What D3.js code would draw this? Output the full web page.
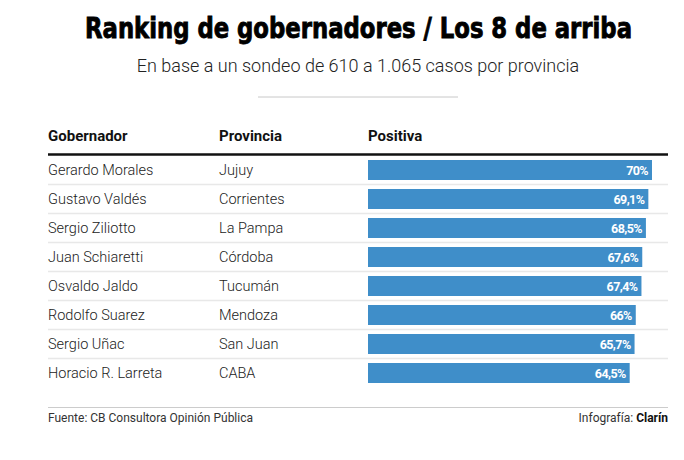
<!DOCTYPE html>
<html>
<head>
<meta charset="utf-8">
<script src="https://cdn.jsdelivr.net/npm/d3@7"></script>
<style>
  body { margin: 0; background: #fff; }
  text { font-family: Roboto, "Noto Sans", sans-serif; }
</style>
</head>
<body>
<div id="chart"></div>
<script>
const gobernadores = ['Gerardo Morales', 'Gustavo Valdés', 'Sergio Ziliotto', 'Juan Schiaretti',
  'Osvaldo Jaldo', 'Rodolfo Suarez', 'Sergio Uñac', 'Horacio R. Larreta'];
const provincias = ['Jujuy', 'Corrientes', 'La Pampa', 'Córdoba', 'Tucumán', 'Mendoza', 'San Juan', 'CABA'];
const positiva = [70, 69.1, 68.5, 67.6, 67.4, 66, 65.7, 64.5];
const columnas = ['Gobernador', 'Provincia', 'Positiva'];

const rows = gobernadores.map((g, i) => ({gob: g, prov: provincias[i], val: positiva[i]}));

const width = 684, height = 460;
const left = 48, right = 668;
const colX = [48, 219, 368];

const svg = d3.select('#chart')
  .append('svg')
  .attr('width', width)
  .attr('height', height);

// titulo
svg.append('text')
  .attr('x', 85)
  .attr('y', 38)
  .attr('textLength', 547)
  .attr('lengthAdjust', 'spacingAndGlyphs')
  .style('font-family', '"DejaVu Sans Condensed", "DejaVu Sans", sans-serif')
  .style('font-weight', 700)
  .style('font-size', '27.5px')
  .style('stroke', '#000')
  .style('stroke-width', 0.8)
  .attr('fill', '#000')
  .text('Ranking de gobernadores / Los 8 de arriba');

svg.append('text')
  .attr('x', 358)
  .attr('y', 72)
  .attr('text-anchor', 'middle')
  .style('font-size', '18px')
  .style('font-weight', 300)
  .attr('fill', '#222')
  .text('En base a un sondeo de 610 a 1.065 casos por provincia');

svg.append('line')
  .attr('x1', 258).attr('x2', 458)
  .attr('y1', 97).attr('y2', 97)
  .attr('stroke', '#c8c8c8');

// encabezado
svg.selectAll('.col')
  .data(columnas)
  .enter()
  .append('text')
  .attr('x', (d, i) => colX[i])
  .attr('y', 141)
  .style('font-size', '15px')
  .style('font-weight', 700)
  .attr('fill', '#111')
  .text(d => d);

svg.append('line')
  .attr('x1', left).attr('x2', right)
  .attr('y1', 154.5).attr('y2', 154.5)
  .attr('stroke', '#111')
  .attr('stroke-width', 2.5);

const y = d3.scaleBand()
  .domain(gobernadores)
  .range([155.5, 155.5 + 29 * gobernadores.length])
  .paddingInner(0.31)
  .paddingOuter(0.155);

const x = d3.scaleLinear()
  .domain([0, d3.max(positiva)])
  .range([colX[2], 652]);

const step = y.step();
const rowTop = d => y(d.gob) - y.paddingInner() * step / 2;

// separadores
svg.selectAll('.sep')
  .data(rows.slice(0, -1))
  .enter()
  .append('line')
  .attr('x1', left).attr('x2', right)
  .attr('y1', d => rowTop(d) + step)
  .attr('y2', d => rowTop(d) + step)
  .attr('stroke', '#e8e8e8')
  .attr('stroke-width', 1.5);

const row = svg.selectAll('.row')
  .data(rows)
  .enter()
  .append('g');

row.append('text')
  .attr('x', colX[0])
  .attr('y', d => y(d.gob) + y.bandwidth() / 2 + 5)
  .style('font-size', '14.5px')
  .style('font-weight', 300)
  .attr('fill', '#222')
  .text(d => d.gob);

row.append('text')
  .attr('x', colX[1])
  .attr('y', d => y(d.gob) + y.bandwidth() / 2 + 5)
  .style('font-size', '14.5px')
  .style('font-weight', 300)
  .attr('fill', '#222')
  .text(d => d.prov);

row.append('rect')
  .attr('x', x(0))
  .attr('y', d => y(d.gob))
  .attr('width', d => x(d.val) - x(0))
  .attr('height', y.bandwidth())
  .attr('fill', '#3f8ec9');

const fmt = v => String(v).replace('.', ',') + '%';

row.append('text')
  .attr('x', d => x(d.val) - 4)
  .attr('y', d => y(d.gob) + y.bandwidth() / 2 + 4.5)
  .attr('text-anchor', 'end')
  .style('font-size', '12.5px')
  .style('font-weight', 700)
  .style('letter-spacing', '-0.6px')
  .attr('fill', '#fff')
  .text(d => fmt(d.val));

// pie
svg.append('line')
  .attr('x1', left).attr('x2', right)
  .attr('y1', 407.5).attr('y2', 407.5)
  .attr('stroke', '#ccc');

svg.append('text')
  .attr('x', left)
  .attr('y', 422)
  .style('font-size', '12px')
  .attr('fill', '#333')
  .text('Fuente: CB Consultora Opinión Pública');

const credit = svg.append('text')
  .attr('x', right)
  .attr('y', 422)
  .attr('text-anchor', 'end')
  .style('font-size', '12px')
  .attr('fill', '#333');
credit.append('tspan').text('Infografía: ');
credit.append('tspan').style('font-weight', 700).attr('fill', '#111').text('Clarín');
</script>
</body>
</html>
